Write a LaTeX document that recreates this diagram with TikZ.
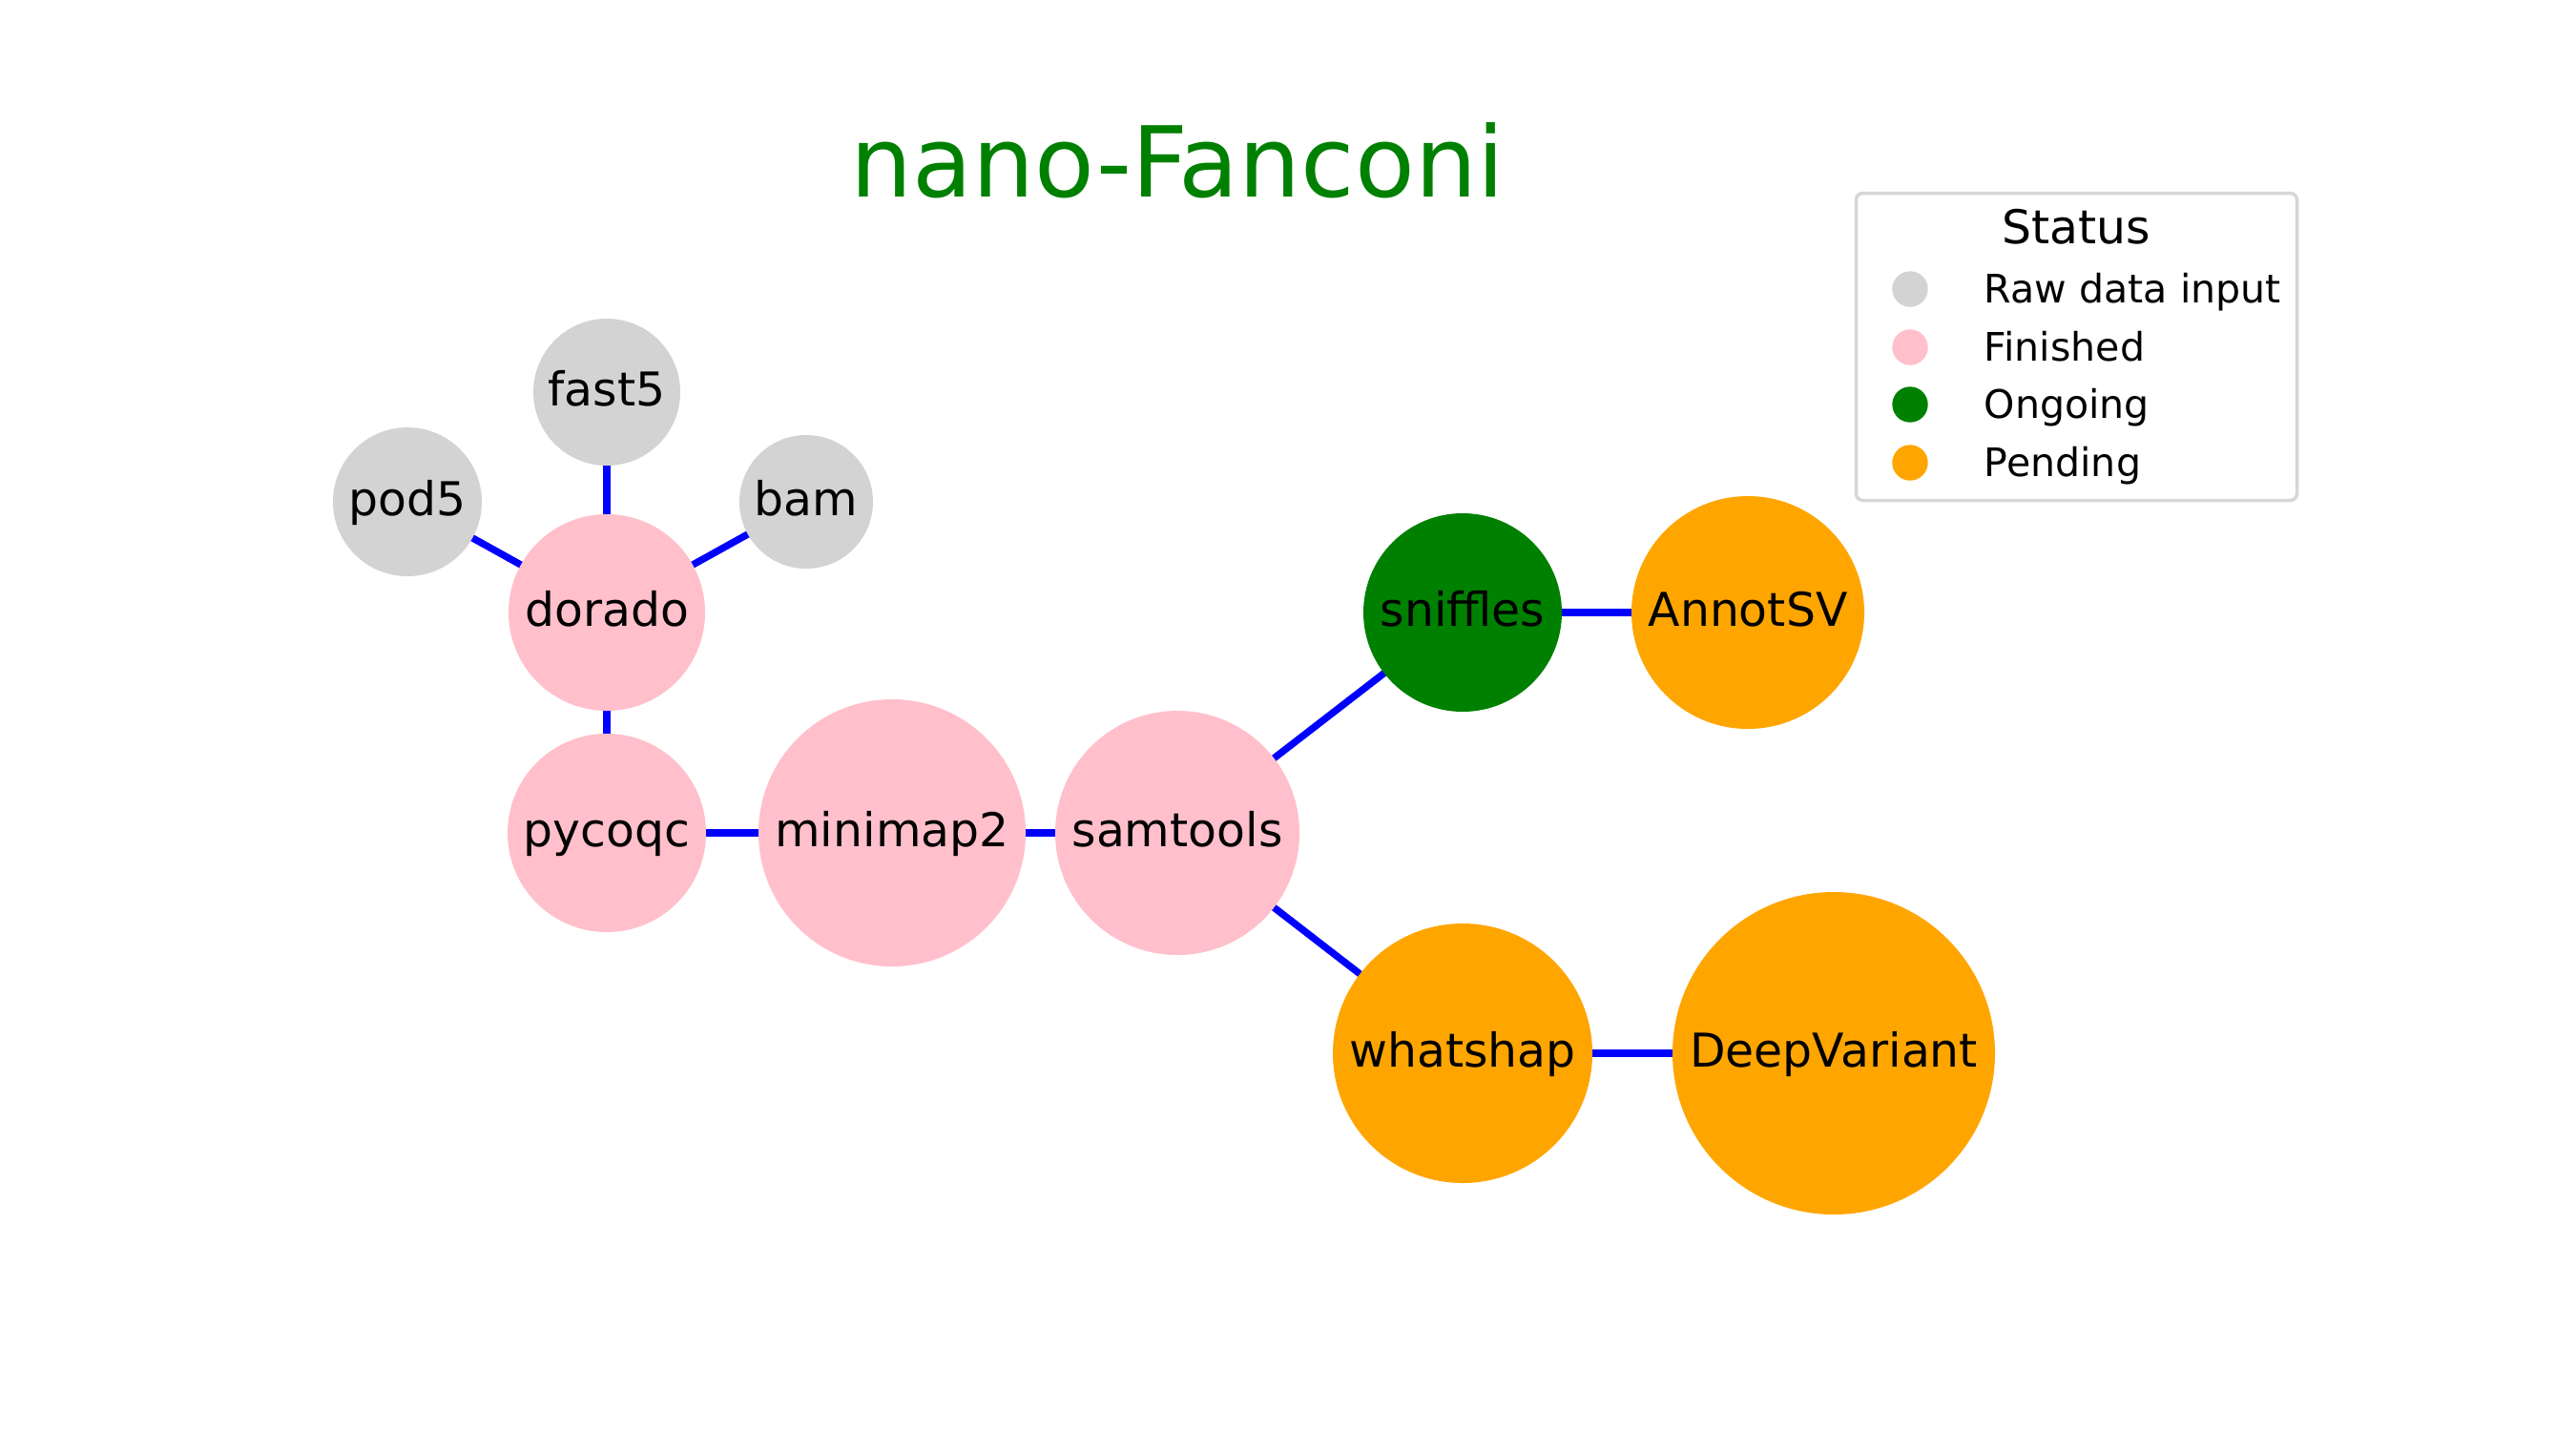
\documentclass[tikz,border=0pt]{standalone}
\usepackage{fontspec}
\setmainfont{DejaVu Sans}
\usetikzlibrary{backgrounds}
\definecolor{rawc}{HTML}{D3D3D3}
\definecolor{finc}{HTML}{FFC0CB}
\definecolor{ongc}{HTML}{008000}
\definecolor{penc}{HTML}{FFA500}
\definecolor{edgec}{HTML}{0000FF}
\definecolor{legframe}{HTML}{D6D6D6}
\begin{document}
\begin{tikzpicture}[
  gnode/.style={circle, inner sep=0pt, draw=none, text height=0.38cm, text depth=0.1cm,
    font=\fontsize{13.9}{16}\selectfont, text=black},
  rawnode/.style={gnode, fill=rawc},
  finnode/.style={gnode, fill=finc},
  ongnode/.style={gnode, fill=ongc},
  pennode/.style={gnode, fill=penc},
  edgeline/.style={draw=edgec, line width=2.1pt},
  legmark/.style={circle, inner sep=0pt, minimum size=0.374cm, draw=none},
  legtext/.style={anchor=base west, inner sep=0pt, font=\fontsize{11.7}{14}\selectfont},
]
\useasboundingbox (0,0) rectangle (27,-15);

% title
\node[anchor=base, inner sep=0pt, text=ongc, font=\fontsize{29.2}{35}\selectfont] (title) at (12.34,-2.06) {nano-Fanconi};

% nodes
\node[rawnode, minimum size=1.54cm] (fast5) at (6.36,-4.11) {fast5};
\node[rawnode, minimum size=1.56cm] (pod5) at (4.27,-5.26) {pod5};
\node[rawnode, minimum size=1.40cm] (bam) at (8.45,-5.26) {bam};
\node[finnode, minimum size=2.06cm] (dorado) at (6.36,-6.42) {dorado};
\node[finnode, minimum size=2.08cm] (pycoqc) at (6.36,-8.73) {pycoqc};
\node[finnode, minimum size=2.80cm] (minimap2) at (9.35,-8.73) {minimap2};
\node[finnode, minimum size=2.56cm] (samtools) at (12.34,-8.73) {samtools};
\node[ongnode, minimum size=2.08cm] (sniffles) at (15.33,-6.42) {sniffles};
\node[pennode, minimum size=2.44cm] (annotsv) at (18.32,-6.42) {AnnotSV};
\node[pennode, minimum size=2.72cm] (whatshap) at (15.33,-11.04) {whatshap};
\node[pennode, minimum size=3.38cm] (deepvariant) at (19.22,-11.04) {DeepVariant};

% edges
\begin{scope}[on background layer]
  \fill[white] (0,0) rectangle (27,-15);
  \draw[edgeline] (pod5.center) -- (dorado.center);
  \draw[edgeline] (fast5.center) -- (dorado.center);
  \draw[edgeline] (bam.center) -- (dorado.center);
  \draw[edgeline] (dorado.center) -- (pycoqc.center);
  \draw[edgeline] (pycoqc.center) -- (minimap2.center);
  \draw[edgeline] (minimap2.center) -- (samtools.center);
  \draw[edgeline] (samtools.center) -- (sniffles.center);
  \draw[edgeline] (samtools.center) -- (whatshap.center);
  \draw[edgeline] (sniffles.center) -- (annotsv.center);
  \draw[edgeline] (whatshap.center) -- (deepvariant.center);
\end{scope}

% legend
\node[draw=legframe, line width=1pt, fill=white, rounded corners=0.07cm,
      minimum width=4.62cm, minimum height=3.22cm, inner sep=0pt] (legend) at (21.765,-3.635) {};
\node[anchor=base, inner sep=0pt, font=\fontsize{13.9}{16}\selectfont] (legtitle) at (21.76,-2.55) {Status};
\node[legmark, fill=rawc] (mraw) at (20.02,-3.03) {};
\node[legmark, fill=finc] (mfin) at (20.02,-3.64) {};
\node[legmark, fill=ongc] (mong) at (20.02,-4.24) {};
\node[legmark, fill=penc] (mpen) at (20.02,-4.85) {};
\node[legtext] (traw) at (20.79,-3.175) {Raw data input};
\node[legtext] (tfin) at (20.79,-3.785) {Finished};
\node[legtext] (tong) at (20.79,-4.385) {Ongoing};
\node[legtext] (tpen) at (20.79,-4.995) {Pending};
\end{tikzpicture}
\end{document}
